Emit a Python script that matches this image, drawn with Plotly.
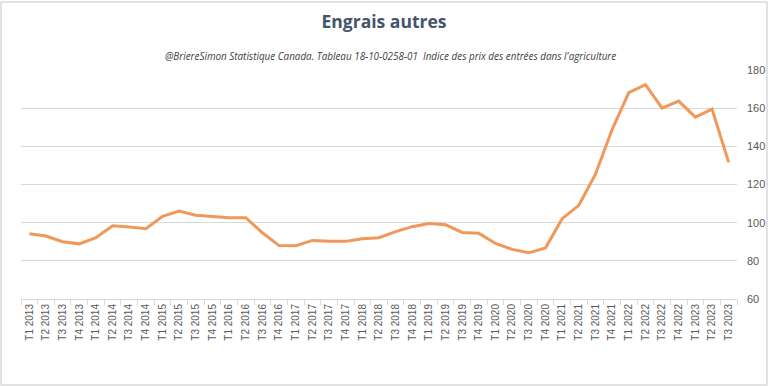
import plotly.graph_objects as go

years = list(range(2013, 2024))
quarters = [f"T{q} {y}" for y in years for q in range(1, 5)][:43]

values = [94.2, 93.0, 90.0, 88.9, 92.1, 98.4, 97.7, 96.8, 103.3, 106.1,
          103.9, 103.2, 102.6, 102.6, 94.7, 88.0, 87.9, 90.7, 90.2, 90.2,
          91.6, 92.1, 95.3, 97.9, 99.5, 98.9, 94.9, 94.4, 89.1, 86.0,
          84.2, 86.8, 102.1, 109.1, 125.4, 148.8, 168.1, 172.3, 160.0, 163.7,
          155.3, 159.5, 131.6]

y_ticks = [60, 80, 100, 120, 140, 160, 180]

fig = go.Figure()
fig.add_trace(go.Scatter(
    x=quarters, y=values, mode="lines",
    line=dict(color="#F0975A", width=3),
    hoverinfo="x+y",
))

fig.update_layout(
    width=768, height=386,
    margin=dict(l=21, r=31, t=70, b=87, autoexpand=False),
    paper_bgcolor="white", plot_bgcolor="white",
    showlegend=False,
    title=dict(text="<b>Engrais autres</b>", x=0.5, xanchor="center",
               y=1 - 22 / 386, yanchor="middle",
               font=dict(family="Open Sans", size=17.5, color="#44546A")),
    annotations=[dict(
        text="<i>@BriereSimon Statistique Canada. Tableau 18-10-0258-01  Indice des prix des entrées dans l'agriculture</i>",
        xref="paper", yref="paper", x=(390 - 21) / 716, y=1 + 14 / 229, xanchor="center", yanchor="middle",
        showarrow=False, font=dict(family="Open Sans", size=9.9, color="#404040"))],
    shapes=[dict(type="rect", xref="paper", yref="paper",
                 x0=-20 / 716, x1=1 + 30 / 716, y0=-86 / 229, y1=1 + 68 / 229,
                 line=dict(color="#D9D9D9", width=1.5))],
)

fig.update_xaxes(
    type="category", tickangle=-90, tickson="boundaries",
    ticks="outside", ticklen=5, tickcolor="#D9D9D9",
    showline=True, linecolor="#D9D9D9", linewidth=1,
    showgrid=False, range=[-0.5, 42.5], automargin=False,
    tickfont=dict(family="Liberation Sans", size=10, color="#595959"),
)
fig.update_yaxes(
    side="right", range=[60, 180], tickvals=y_ticks,
    showgrid=True, gridcolor="#D9D9D9", gridwidth=1,
    zeroline=False, showline=False, ticks="", automargin=False,
    ticklabelstandoff=9,
    tickfont=dict(family="Liberation Sans", size=11, color="#595959"),
)

fig.write_html("out.html", config={"displayModeBar": False},
               post_script="document.body.style.margin='0px';")
